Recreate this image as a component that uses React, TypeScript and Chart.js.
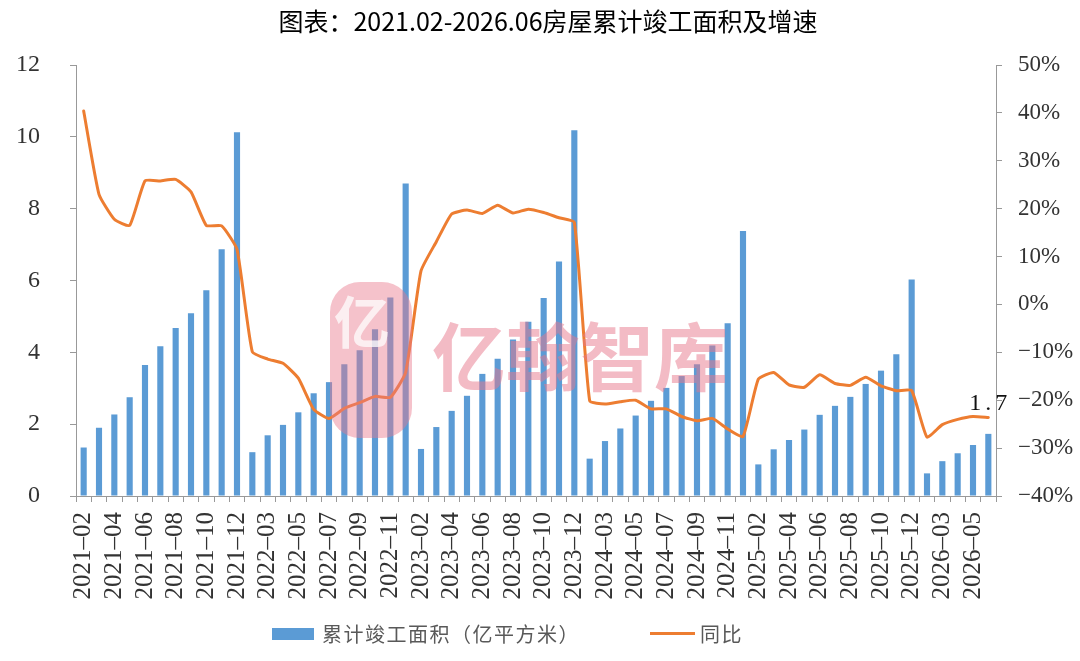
import React, { useEffect, useRef } from 'react';
import Chart from 'chart.js/auto';

// 2021-02 .. 2026-06, no January (Jan-Feb reported together)
const months = [
  '2021-02', '2021-03', '2021-04', '2021-05', '2021-06', '2021-07', '2021-08', '2021-09', '2021-10', '2021-11', '2021-12',
  '2022-02', '2022-03', '2022-04', '2022-05', '2022-06', '2022-07', '2022-08', '2022-09', '2022-10', '2022-11', '2022-12',
  '2023-02', '2023-03', '2023-04', '2023-05', '2023-06', '2023-07', '2023-08', '2023-09', '2023-10', '2023-11', '2023-12',
  '2024-02', '2024-03', '2024-04', '2024-05', '2024-06', '2024-07', '2024-08', '2024-09', '2024-10', '2024-11', '2024-12',
  '2025-02', '2025-03', '2025-04', '2025-05', '2025-06', '2025-07', '2025-08', '2025-09', '2025-10', '2025-11', '2025-12',
  '2026-02', '2026-03', '2026-04', '2026-05', '2026-06',
];

// 累计竣工面积（亿平方米）
const completedArea = [
  1.35, 1.9, 2.27, 2.75, 3.65, 4.17, 4.68, 5.09, 5.73, 6.87, 10.13,
  1.22, 1.69, 1.98, 2.33, 2.86, 3.17, 3.67, 4.06, 4.64, 5.53, 8.7,
  1.31, 1.92, 2.37, 2.79, 3.4, 3.82, 4.36, 4.85, 5.51, 6.53, 10.18,
  1.04, 1.53, 1.88, 2.24, 2.65, 3.01, 3.34, 3.67, 4.19, 4.81, 7.38,
  0.88, 1.3, 1.56, 1.85, 2.26, 2.51, 2.76, 3.12, 3.49, 3.95, 6.03,
  0.63, 0.97, 1.19, 1.42, 1.73,
];

// 同比 (%)
const yoyGrowth = [
  40.4, 23.0, 17.8, 16.5, 25.8, 25.8, 26.1, 23.5, 16.5, 16.4, 11.5,
  -9.9, -11.4, -12.3, -15.4, -21.9, -23.8, -21.7, -20.5, -19.2, -19.4, -14.2,
  7.0, 13.1, 18.9, 19.7, 19.0, 20.7, 19.1, 19.9, 19.2, 18.1, 17.1,
  -20.1, -20.8, -20.3, -20.0, -21.8, -21.8, -23.4, -24.3, -23.8, -26.0, -27.6,
  -15.6, -14.2, -16.8, -17.3, -14.7, -16.5, -16.9, -15.2, -17.0, -18.0, -18.0,
  -27.7, -25.1, -24.0, -23.4, -23.6,
];

const TITLE = '图表：2021.02-2026.06房屋累计竣工面积及增速';
const BAR_LABEL = '累计竣工面积（亿平方米）';
const LINE_LABEL = '同比';
const BLUE = '#5B9BD5';
const ORANGE = '#ED7D31';
const SERIF = '"Liberation Serif", "DejaVu Serif", serif';
const SANS = '"Noto Sans CJK SC", "Noto Sans", sans-serif';

// value label on the last bar
const lastValuePlugin = {
  id: 'lastValue',
  afterDatasetsDraw(chart: any) {
    const meta = chart.getDatasetMeta(1);
    const last = meta.data[meta.data.length - 1];
    if (!last) return;
    const ctx = chart.ctx;
    ctx.save();
    ctx.font = `24px ${SERIF}`;
    ctx.fillStyle = '#111';
    ctx.textAlign = 'center';
    ctx.textBaseline = 'bottom';
    (ctx as any).letterSpacing = '4px';
    ctx.fillText(completedArea[completedArea.length - 1].toFixed(1), last.x + 2, last.y - 18);
    ctx.restore();
  },
};

// 亿翰智库 watermark
const watermarkPlugin = {
  id: 'watermark',
  afterDatasetsDraw(chart: any) {
    const ctx = chart.ctx;
    ctx.save();
    ctx.fillStyle = 'rgba(232, 120, 140, 0.45)';
    ctx.beginPath();
    ctx.roundRect(330, 282, 82, 156, 30);
    ctx.fill();
    ctx.fillStyle = 'rgba(255, 255, 255, 0.75)';
    ctx.font = `bold 56px ${SANS}`;
    ctx.textAlign = 'center';
    ctx.textBaseline = 'middle';
    ctx.fillText('亿', 362, 322);
    ctx.fillStyle = 'rgba(232, 120, 140, 0.5)';
    ctx.font = `bold 74px ${SANS}`;
    ctx.textAlign = 'left';
    ctx.fillText('亿翰智库', 432, 357);
    ctx.restore();
  },
};

const CompletionChart: React.FC = () => {
  const chartRef = useRef<HTMLCanvasElement | null>(null);
  const chartInstanceRef = useRef<Chart | null>(null);

  useEffect(() => {
    if (!chartRef.current) return;
    const ctx = chartRef.current.getContext('2d');
    if (!ctx) return;

    chartInstanceRef.current = new Chart(ctx, {
      type: 'bar',
      data: {
        labels: months,
        datasets: [
          {
            type: 'line',
            label: LINE_LABEL,
            data: yoyGrowth,
            yAxisID: 'y1',
            borderColor: ORANGE,
            borderWidth: 3,
            pointRadius: 0,
            tension: 0.15,
            borderJoinStyle: 'round',
            borderCapStyle: 'round',
            fill: false,
            order: 1,
          } as any,
          {
            type: 'bar',
            label: BAR_LABEL,
            data: completedArea,
            yAxisID: 'y',
            backgroundColor: BLUE,
            barPercentage: 0.4,
            categoryPercentage: 1,
            order: 2,
          },
        ],
      },
      options: {
        responsive: true,
        maintainAspectRatio: false,
        animation: false,
        layout: { padding: { left: 16, right: 0, top: 0, bottom: 0 } },
        plugins: {
          legend: { display: false },
          tooltip: { enabled: false },
          title: {
            display: true,
            text: TITLE,
            color: '#000',
            font: { family: SANS, size: 25, weight: 'normal' },
            padding: { top: 6, bottom: 29 },
          },
        },
        scales: {
          x: {
            grid: { drawOnChartArea: false, drawTicks: true, tickLength: 6, color: '#999', offset: true },
            border: { color: '#999' },
            ticks: {
              autoSkip: false,
              minRotation: 90,
              maxRotation: 90,
              padding: 10,
              color: '#333',
              font: { family: SERIF, size: 25 },
              callback: function (this: any, value: any, index: number) {
                return index % 2 === 0 ? String(this.getLabelForValue(value)).replace('-', '\u2013') : '';
              },
            },
            afterFit: (scale: any) => {
              scale.height = 165;
            },
          },
          y: {
            position: 'left',
            min: 0,
            max: 12,
            grid: { drawOnChartArea: false, tickLength: 6, color: '#999' },
            border: { color: '#999' },
            ticks: { stepSize: 2, padding: 30, color: '#333', font: { family: SERIF, size: 24 } },
            afterFit: (scale: any) => {
              scale.width = 60;
            },
          },
          y1: {
            position: 'right',
            min: -40,
            max: 50,
            grid: { drawOnChartArea: false, tickLength: 6, color: '#999' },
            border: { color: '#999' },
            ticks: {
              stepSize: 10,
              padding: 16,
              color: '#333',
              font: { family: SERIF, size: 23 },
              callback: (v: any) => (Number(v) < 0 ? '\u2212' + Math.abs(Number(v)) : v) + '%',
            },
            afterFit: (scale: any) => {
              scale.width = 84;
            },
          },
        },
      },
      plugins: [watermarkPlugin, lastValuePlugin],
    });

    return () => {
      if (chartInstanceRef.current) {
        chartInstanceRef.current.destroy();
        chartInstanceRef.current = null;
      }
    };
  }, []);

  const legendText: React.CSSProperties = {
    position: 'absolute',
    top: 619,
    fontFamily: SANS,
    fontSize: 20,
    letterSpacing: '1.5px',
    color: '#595959',
    lineHeight: '30px',
    whiteSpace: 'nowrap',
  };

  return (
    <div style={{ position: 'absolute', left: 0, top: 0, width: 1080, height: 661, background: '#fff' }}>
      <canvas ref={chartRef} />
      <div style={{ position: 'absolute', left: 272, top: 628, width: 42, height: 12, background: BLUE }} />
      <div style={{ ...legendText, left: 322 }}>{BAR_LABEL}</div>
      <div style={{ position: 'absolute', left: 650, top: 632, width: 45, height: 3, background: ORANGE }} />
      <div style={{ ...legendText, left: 700 }}>{LINE_LABEL}</div>
    </div>
  );
};

export default function App() {
  return <CompletionChart />;
}
